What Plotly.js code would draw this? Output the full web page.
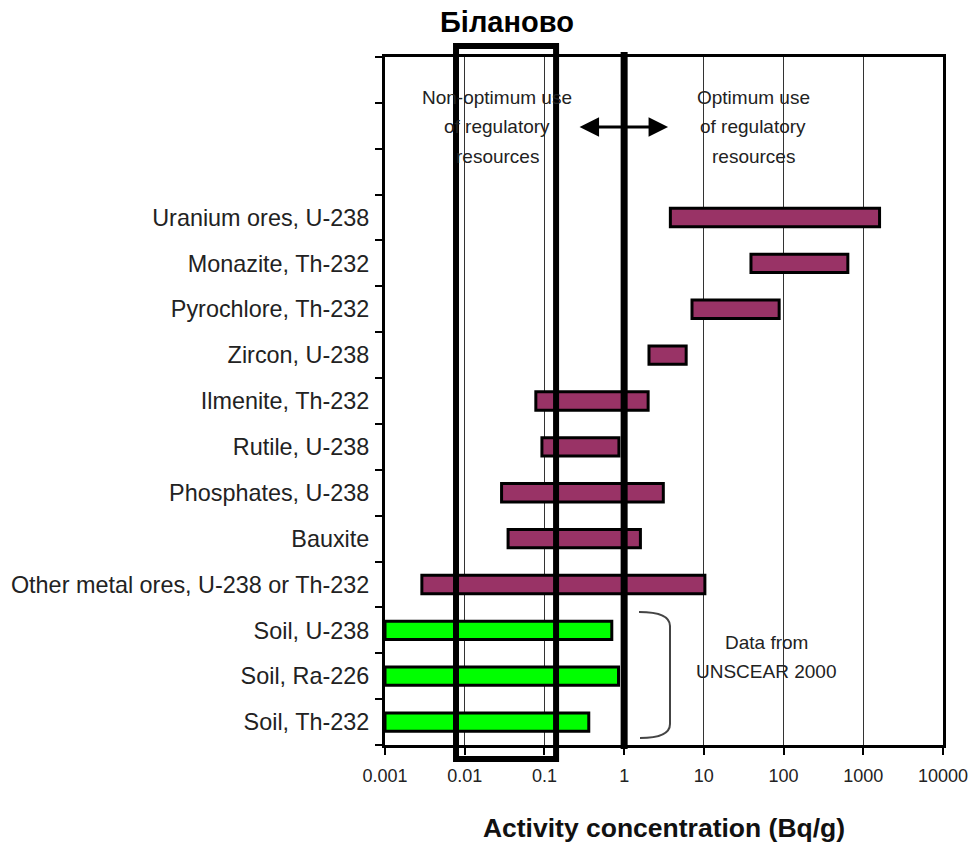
<!DOCTYPE html>
<html>
<head>
<meta charset="utf-8">
<script src="https://cdn.plot.ly/plotly-3.0.1.min.js"></script>
<style>html,body{margin:0;padding:0;background:#fff;}#chart{width:976px;height:843px;}</style>
</head>
<body>
<div id="chart"></div>
<script>
// Categories from bottom to top (three empty slots at the top)
const categories = [
  "Soil, Th-232", "Soil, Ra-226", "Soil, U-238",
  "Other metal ores, U-238 or Th-232", "Bauxite", "Phosphates, U-238",
  "Rutile, U-238", "Ilmenite, Th-232", "Zircon, U-238",
  "Pyrochlore, Th-232", "Monazite, Th-232", "Uranium ores, U-238",
  " ", "  ", "   "
];
// Industrial materials: ranges (Bq/g)
const oreNames = ["Other metal ores, U-238 or Th-232", "Bauxite", "Phosphates, U-238",
  "Rutile, U-238", "Ilmenite, Th-232", "Zircon, U-238",
  "Pyrochlore, Th-232", "Monazite, Th-232", "Uranium ores, U-238"];
const oreLow  = [0.0029, 0.035, 0.029, 0.093, 0.078, 2.05, 7.1, 39, 3.8];
const oreHigh = [10.3, 1.6, 3.1, 0.86, 2.0, 6.0, 88, 640, 1600];
// Soil data (UNSCEAR 2000)
const soilNames = ["Soil, Th-232", "Soil, Ra-226", "Soil, U-238"];
const soilLow  = [0.001, 0.001, 0.001];
const soilHigh = [0.36, 0.85, 0.7];
const xTickVals = [0.001, 0.01, 0.1, 1, 10, 100, 1000, 10000];
const xTickText = ["0.001", "0.01", "0.1", "1", "10", "100", "1000", "10000"];

const W = 976, H = 843;
const L = 385, R = 33, T = 57, B = 98;
const pw = W - L - R, ph = H - T - B;
const py = v => (H - B - v) / ph;      // pixel y -> paper y
const px = v => (v - L) / pw;          // pixel x -> paper x

const traces = [
  {
    type: "bar", orientation: "h", y: oreNames,
    base: oreLow, x: oreHigh.map((h, i) => h - oreLow[i]),
    width: 0.4,
    marker: {color: "#993366", line: {color: "#000", width: 3}},
    hoverinfo: "skip"
  },
  {
    type: "bar", orientation: "h", y: soilNames,
    base: soilLow, x: soilHigh.map((h, i) => h - soilLow[i]),
    width: 0.4,
    marker: {color: "#00ff00", line: {color: "#000", width: 3}},
    hoverinfo: "skip"
  }
];

const FF = "Liberation Sans, Arial, sans-serif";
const txtFont = {family: FF, size: 19, color: "#222"};
const ann = (x, y, text) => ({x: x, y: y, xref: "x", yref: "paper", text: text,
  showarrow: false, font: txtFont, xanchor: "center", yanchor: "middle"});

const layout = {
  width: W, height: H,
  margin: {l: L, r: R, t: T, b: B},
  paper_bgcolor: "#fff", plot_bgcolor: "#fff",
  showlegend: false,
  barmode: "overlay",
  font: {family: FF, color: "#222"},
  xaxis: {
    type: "log", range: [-3, 4],
    tickvals: xTickVals, ticktext: xTickText,
    ticks: "outside", ticklen: 7, tickwidth: 2, tickcolor: "#000",
    showgrid: true, gridcolor: "#333", gridwidth: 1,
    showline: true, linecolor: "#000", linewidth: 3, mirror: true,
    zeroline: false,
    ticklabelstandoff: 5,
    tickfont: {family: FF, size: 18, color: "#222"},
    title: {text: "Activity concentration (Bq/g)", standoff: 34,
      font: {family: FF, size: 26.5, color: "#111", weight: "bold"}}
  },
  yaxis: {
    type: "category", categoryorder: "array", categoryarray: categories,
    range: [-0.5, 14.5],
    tickson: "boundaries",
    ticks: "outside", ticklen: 7, tickwidth: 2, tickcolor: "#000",
    showgrid: false, zeroline: false,
    showline: true, linecolor: "#000", linewidth: 3, mirror: true,
    ticklabelstandoff: 8,
    tickfont: {family: FF, size: 23.4, color: "#222"}
  },
  shapes: [
    // white backgrounds behind the text blocks (cover gridlines)
    {type: "rect", xref: "x", yref: "paper", x0: 0.006, x1: 0.22, y0: py(178), y1: py(80),
      fillcolor: "#fff", line: {width: 0}, layer: "between"},
    {type: "rect", xref: "x", yref: "paper", x0: 5, x1: 300, y0: py(177), y1: py(80),
      fillcolor: "#fff", line: {width: 0}, layer: "between"},
    {type: "rect", xref: "x", yref: "paper", x0: 5, x1: 300, y0: py(703), y1: py(627),
      fillcolor: "#fff", line: {width: 0}, layer: "between"},
    // thick line at 1 Bq/g
    {type: "line", xref: "x", yref: "paper", x0: 1, x1: 1, y0: py(749), y1: py(52),
      line: {color: "#000", width: 7}, layer: "above"},
    // Біланово box
    {type: "rect", xref: "x", yref: "paper", x0: 0.00778, x1: 0.140, y0: py(759), y1: py(46),
      line: {color: "#000", width: 6}, fillcolor: "rgba(0,0,0,0)", layer: "above"},
    // bracket
    {type: "path", xref: "paper", yref: "paper",
      path: "M " + px(639) + "," + py(612) + " Q " + px(670) + "," + py(612) + " " + px(670) + "," + py(626) +
            " L " + px(670) + "," + py(724) + " Q " + px(670) + "," + py(738) + " " + px(640) + "," + py(738),
      line: {color: "#444", width: 2}, layer: "above"}
  ],
  annotations: [
    {x: px(507), y: py(22), xref: "paper", yref: "paper", text: "<b>Біланово</b>", showarrow: false,
      font: {family: FF, size: 29, color: "#000"},
      xanchor: "center", yanchor: "middle"},
    ann(-1.595, py(97), "Non-optimum use"),
    ann(-1.595, py(127), "of regulatory"),
    ann(-1.595, py(156), "resources"),
    ann(1.617, py(97), "Optimum use"),
    ann(1.617, py(127), "of regulatory"),
    ann(1.617, py(156), "resources"),
    ann(1.78, py(642), "Data from"),
    ann(1.78, py(671), "UNSCEAR 2000"),
    // double-headed arrow
    {x: 0.551, y: py(127), ax: -0.578, ay: py(127), xref: "x", yref: "paper", axref: "x", ayref: "paper",
      text: "", showarrow: true, arrowhead: 2, startarrowhead: 2, arrowside: "end+start",
      arrowsize: 1.3, startarrowsize: 1.3, arrowwidth: 3, arrowcolor: "#000"}
  ]
};

Plotly.newPlot("chart", traces, layout, {staticPlot: true, displayModeBar: false});
</script>
</body>
</html>
